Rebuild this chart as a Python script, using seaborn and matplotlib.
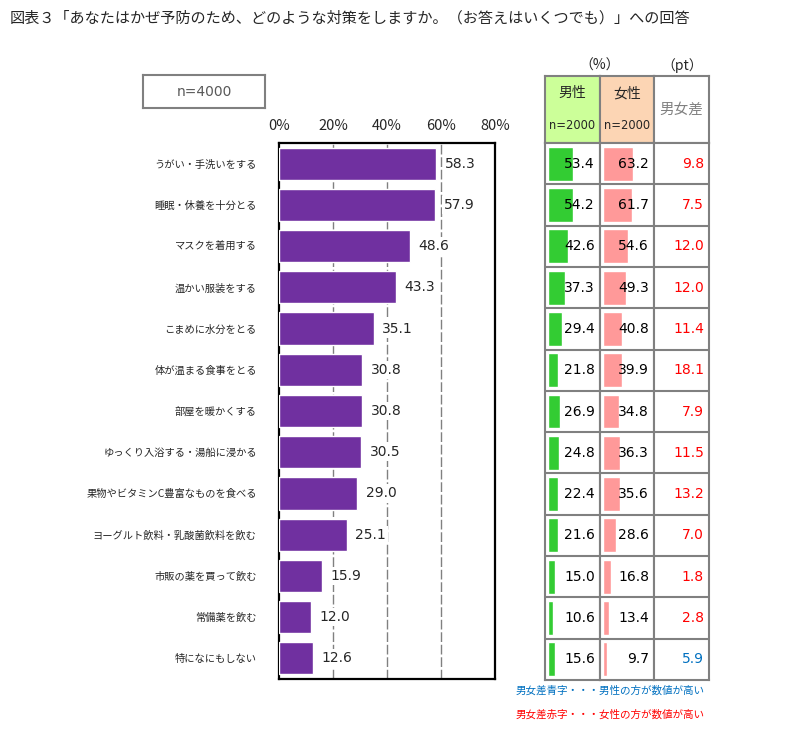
import matplotlib
matplotlib.use('Agg')
import matplotlib.pyplot as plt
import matplotlib.transforms as mtrans
import seaborn as sns

# data
categories = [
    'うがい・手洗いをする', '睡眠・休養を十分とる', 'マスクを着用する', '温かい服装をする',
    'こまめに水分をとる', '体が温まる食事をとる', '部屋を暖かくする',
    'ゆっくり入浴する・湯船に浸かる', '果物やビタミンC豊富なものを食べる',
    'ヨーグルト飲料・乳酸菌飲料を飲む', '市販の薬を買って飲む', '常備薬を飲む', '特になにもしない',
]
total = [58.3, 57.9, 48.6, 43.3, 35.1, 30.8, 30.8, 30.5, 29.0, 25.1, 15.9, 12.0, 12.6]
male = [53.4, 54.2, 42.6, 37.3, 29.4, 21.8, 26.9, 24.8, 22.4, 21.6, 15.0, 10.6, 15.6]
female = [63.2, 61.7, 54.6, 49.3, 40.8, 39.9, 34.8, 36.3, 35.6, 28.6, 16.8, 13.4, 9.7]
diff = [9.8, 7.5, 12.0, 12.0, 11.4, 18.1, 7.9, 11.5, 13.2, 7.0, 1.8, 2.8, 5.9]
x_ticks = [0, 20, 40, 60, 80]
tick_labels = ['0%', '20%', '40%', '60%', '80%']

W, H = 810, 735
GRID = '#808080'
NUM_FONT = 'DejaVu Sans'


def box(x0, y0, x1, y1):
    # pixel box (top-left origin) -> figure fraction rect
    return [x0 / W, 1 - y1 / H, (x1 - x0) / W, (y1 - y0) / H]


def ftext(x, y, s, **kw):
    fig.text(x / W, 1 - y / H, s, **kw)


sns.set_style('white')
plt.rcParams['font.family'] = ['Noto Sans CJK JP', 'DejaVu Sans']

fig = plt.figure(figsize=(8.1, 7.35), dpi=100)

ftext(10, 18, '図表３「あなたはかぜ予防のため、どのような対策をしますか。（お答えはいくつでも）」への回答',
      fontsize=10.9, ha='left', va='center')

# n box
nax = fig.add_axes(box(143, 75, 265, 108))
nax.set_xticks([])
nax.set_yticks([])
for s in nax.spines.values():
    s.set_color(GRID)
    s.set_linewidth(1.5)
nax.text(0.5, 0.5, 'n=4000', ha='center', va='center', fontsize=10,
         color='#595959', family=NUM_FONT, transform=nax.transAxes)

# main bar chart
ax = fig.add_axes(box(279, 143, 495, 679))
sns.barplot(x=total, y=categories, orient='h', color='#7030A0', width=0.78,
            saturation=1, ax=ax, zorder=3)
ax.set_xlim(0, 80)
ax.set_xticks(x_ticks)
ax.set_xticklabels(tick_labels)
ax.xaxis.tick_top()
ax.tick_params(axis='x', length=0, pad=7, labelsize=10.5)
ax.tick_params(axis='y', length=0, pad=16, labelsize=7.4)
ax.set_xlabel('')
ax.set_ylabel('')
for v in x_ticks[1:-1]:
    ax.axvline(v, color=GRID, lw=1, ls=(0, (7, 2)), zorder=1)
for s in ax.spines.values():
    s.set_color('black')
    s.set_linewidth(1.6)
lbls = ax.bar_label(ax.containers[0], labels=[f'{v:.1f}' for v in total], padding=6,
                    fontsize=10, family=NUM_FONT)
for t in lbls:
    t.set_bbox(dict(facecolor='white', edgecolor='none', pad=1.5))
    t.set_zorder(4)

# table header
ftext(600, 66, '（%）', fontsize=10, ha='center', va='center')
ftext(682, 66, '（pt）', fontsize=10, ha='center', va='center')

headers = [(545, 600, '#CCFF99', '男性'), (600, 654, '#FCD5B4', '女性'), (654, 709, 'white', None)]
for x0, x1, face, label in headers:
    hax = fig.add_axes(box(x0, 76, x1, 143))
    hax.set_facecolor(face)
    hax.set_xticks([])
    hax.set_yticks([])
    for s in hax.spines.values():
        s.set_color(GRID)
        s.set_linewidth(1.5)
    if label:
        hax.text(0.5, 0.74, label, ha='center', va='center', fontsize=10,
                 transform=hax.transAxes)
        hax.text(0.5, 0.26, 'n=2000', ha='center', va='center', fontsize=8.3,
                 family=NUM_FONT, transform=hax.transAxes)
    else:
        hax.text(0.5, 0.5, '男女差', ha='center', va='center', fontsize=10.5,
                 color=GRID, transform=hax.transAxes)

# table body
cols = [(545, 600, male, '#33CC33'), (600, 654, female, '#FF9999'), (654, 709, None, None)]
for x0, x1, vals, col in cols:
    tax = fig.add_axes(box(x0, 143, x1, 680))
    if vals is not None:
        sns.barplot(x=vals, y=categories, orient='h', color=col, width=0.82,
                    saturation=1, ax=tax)
        tax.set_xlim(-6, (x1 - x0) / 0.47 - 6)
        texts = [f'{v:.1f}' for v in vals]
        colors = ['black'] * len(vals)
    else:
        tax.set_ylim(len(categories) - 0.5, -0.5)
        texts = [f'{v:.1f}' for v in diff]
        colors = ['#0070C0' if m > f else '#FF0000' for m, f in zip(male, female)]
    tax.set_xticks([])
    tax.set_yticks([])
    tax.set_xlabel('')
    tax.set_ylabel('')
    trans = mtrans.blended_transform_factory(tax.transAxes, tax.transData)
    inset = 1 - 5 / (x1 - x0)
    for i, (t, c) in enumerate(zip(texts, colors)):
        tax.text(inset, i, t, transform=trans, ha='right', va='center',
                 fontsize=10, family=NUM_FONT, color=c)
    for i in range(1, len(categories)):
        tax.axhline(i - 0.5, color=GRID, lw=1.5)
    for s in tax.spines.values():
        s.set_color(GRID)
        s.set_linewidth(1.5)

ftext(705, 691, '男女差青字・・・男性の方が数値が高い', fontsize=7.6, color='#0070C0',
      ha='right', va='center')
ftext(705, 715, '男女差赤字・・・女性の方が数値が高い', fontsize=7.6, color='#FF0000',
      ha='right', va='center')

fig.savefig('out.png', dpi=100)
